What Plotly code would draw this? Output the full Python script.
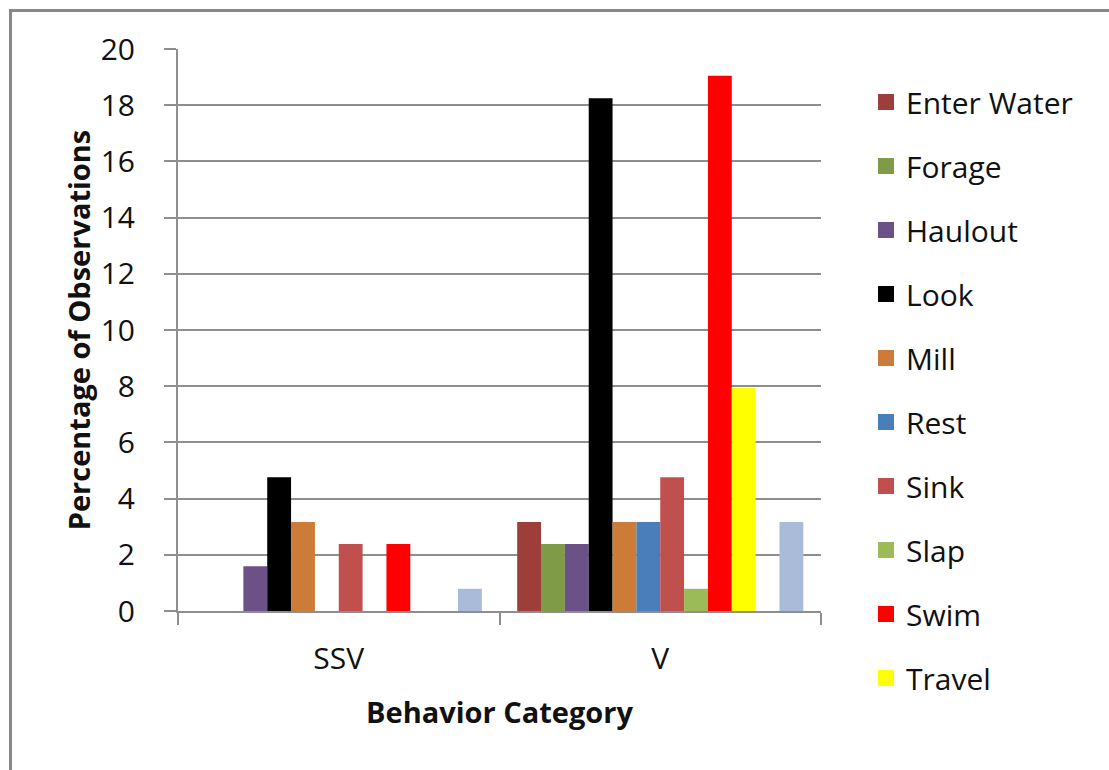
import plotly.graph_objects as go

# Behaviour categories on the x axis
categories = ["SSV", "V"]

# Series (behaviours), in plotting order
series_names = ["Enter Water", "Forage", "Haulout", "Look", "Mill", "Rest",
                "Sink", "Slap", "Swim", "Travel", "Other 1", "Other 2"]
series_colors = ["#9D3E3B", "#7F9B47", "#6B5188", "#000000", "#CD7B38", "#4A7EBB",
                 "#C0504D", "#9BBB59", "#FF0000", "#FFFF00", "#F79646", "#AABAD9"]
# Percentage of observations, per series: [SSV, V]
enter_water = [0.00, 3.17]
forage = [0.00, 2.38]
haulout = [1.59, 2.38]
look = [4.76, 18.25]
mill = [3.17, 3.17]
rest = [0.00, 3.17]
sink = [2.38, 4.76]
slap = [0.00, 0.79]
swim = [2.38, 19.05]
travel = [0.00, 7.94]
other_1 = [0.00, 0.00]
other_2 = [0.79, 3.17]
series_values = [enter_water, forage, haulout, look, mill, rest,
                 sink, slap, swim, travel, other_1, other_2]
# only the first ten series appear in the legend
legend_count = 10

y_ticks = [0, 2, 4, 6, 8, 10, 12, 14, 16, 18, 20]

FONT = "'Open Sans', Lato, sans-serif"
GRID = "#8E8E8E"

fig = go.Figure()
for i, (name, color, vals) in enumerate(zip(series_names, series_colors, series_values)):
    fig.add_trace(go.Bar(
        x=categories, y=vals, name=name,
        marker=dict(color=color, line=dict(width=0)),
        showlegend=False,
        legendgroup=f"g{i}",
    ))
    if i < legend_count:
        # legend entry with a larger square swatch, tied to the bar trace
        fig.add_trace(go.Scatter(
            x=[None], y=[None], mode="markers", name=name,
            marker=dict(symbol="square", size=20, color=color),
            legendgroup=f"g{i}", showlegend=True, hoverinfo="skip",
        ))

W, H = 1109, 770
L, R, T, B = 178, 288, 49, 159
pw, ph = W - L - R, H - T - B


def px_x(x):
    return (x - L) / pw


def px_y(y):
    return (H - B - y) / ph


fig.update_layout(
    width=W, height=H,
    margin=dict(l=L, r=R, t=T, b=B, autoexpand=False),
    paper_bgcolor="white", plot_bgcolor="white",
    barmode="group", bargap=0.11, bargroupgap=0,
    font=dict(family=FONT, size=30, color="#111111"),
    legend=dict(
        x=px_x(866), xanchor="left",
        y=px_y(76), yanchor="top",
        maxheight=720,
        font=dict(family=FONT, size=30, color="#111111"),
        traceorder="grouped", tracegroupgap=22,
        itemsizing="trace",
        bgcolor="rgba(0,0,0,0)", borderwidth=0,
        itemclick=False, itemdoubleclick=False,
    ),
    xaxis=dict(
        type="category",
        showline=True, linecolor=GRID, linewidth=2,
        ticks="outside", ticklen=12, tickwidth=2, tickcolor=GRID,
        tickson="boundaries", ticklabelstandoff=20,
        tickfont=dict(size=30),
        showgrid=False,
        title=dict(text="<b>Behavior Category</b>", font=dict(size=29), standoff=26),
    ),
    yaxis=dict(
        range=[0, 20], tickvals=y_ticks,
        showline=True, linecolor=GRID, linewidth=2,
        ticks="outside", ticklen=12, tickwidth=2, tickcolor=GRID,
        ticklabelstandoff=23,
        showgrid=True, gridcolor=GRID, gridwidth=2,
        zeroline=False,
        tickfont=dict(size=30),
        title=dict(text="<b>Percentage of Observations</b>", font=dict(size=29), standoff=2),
    ),
    shapes=[dict(
        type="rect", xref="paper", yref="paper",
        x0=px_x(10.5), x1=px_x(1125), y0=px_y(790), y1=px_y(10.5),
        line=dict(color="#888888", width=3), fillcolor="rgba(0,0,0,0)", layer="below",
    )],
)

fig.write_html("out.html")
